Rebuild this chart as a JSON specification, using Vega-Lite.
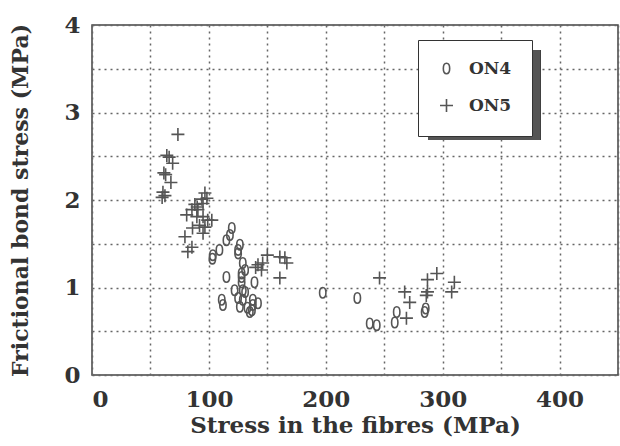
{
  "$schema": "https://vega.github.io/schema/vega-lite/v6.json",
  "width": 526,
  "height": 350,
  "autosize": {"type": "none"},
  "padding": {"left": 92, "top": 25, "right": 2, "bottom": 71},
  "background": "white",
  "config": {
    "view": {"stroke": "#444", "strokeWidth": 1.5},
    "font": "DejaVu Serif",
    "axis": {
      "labelFont": "DejaVu Serif",
      "labelFontWeight": "bold",
      "labelFontSize": 23,
      "labelColor": "#333",
      "titleFont": "DejaVu Serif",
      "titleFontWeight": "bold",
      "titleFontSize": 22,
      "titleColor": "#333",
      "grid": true,
      "gridColor": "#666",
      "gridDash": [2, 4],
      "gridWidth": 1.5,
      "domain": false,
      "ticks": false
    },
    "legend": {
      "labelFont": "DejaVu Serif",
      "labelFontWeight": "bold",
      "labelFontSize": 17,
      "labelColor": "#333"
    }
  },
  "data": {
    "values": [
      {"series": "ON5", "stress": 73.5, "bond": 2.75},
      {"series": "ON5", "stress": 64, "bond": 2.51},
      {"series": "ON5", "stress": 66, "bond": 2.49},
      {"series": "ON5", "stress": 69, "bond": 2.42},
      {"series": "ON5", "stress": 61.5, "bond": 2.31},
      {"series": "ON5", "stress": 63, "bond": 2.29},
      {"series": "ON5", "stress": 67.5, "bond": 2.2},
      {"series": "ON5", "stress": 60.7, "bond": 2.09},
      {"series": "ON5", "stress": 60, "bond": 2.03},
      {"series": "ON5", "stress": 62.4, "bond": 2.05},
      {"series": "ON5", "stress": 96.6, "bond": 2.08},
      {"series": "ON5", "stress": 98.3, "bond": 2.02},
      {"series": "ON5", "stress": 94, "bond": 2.01},
      {"series": "ON5", "stress": 88, "bond": 1.95},
      {"series": "ON5", "stress": 85.5, "bond": 1.89},
      {"series": "ON5", "stress": 81, "bond": 1.83},
      {"series": "ON5", "stress": 90.6, "bond": 1.89},
      {"series": "ON5", "stress": 89.7, "bond": 1.81},
      {"series": "ON5", "stress": 95, "bond": 1.81},
      {"series": "ON5", "stress": 99, "bond": 1.77},
      {"series": "ON5", "stress": 92, "bond": 1.71},
      {"series": "ON5", "stress": 96.6, "bond": 1.69},
      {"series": "ON5", "stress": 86, "bond": 1.68},
      {"series": "ON5", "stress": 95, "bond": 1.62},
      {"series": "ON5", "stress": 79.5, "bond": 1.58},
      {"series": "ON5", "stress": 85.5, "bond": 1.46},
      {"series": "ON5", "stress": 82, "bond": 1.41},
      {"series": "ON5", "stress": 102.5, "bond": 1.77},
      {"series": "ON5", "stress": 90, "bond": 1.92},
      {"series": "ON5", "stress": 95, "bond": 1.96},
      {"series": "ON5", "stress": 142, "bond": 1.26},
      {"series": "ON5", "stress": 146, "bond": 1.28},
      {"series": "ON5", "stress": 145, "bond": 1.2},
      {"series": "ON5", "stress": 150, "bond": 1.37},
      {"series": "ON5", "stress": 160.7, "bond": 1.35},
      {"series": "ON5", "stress": 166.7, "bond": 1.28},
      {"series": "ON5", "stress": 165, "bond": 1.34},
      {"series": "ON5", "stress": 160.7, "bond": 1.11},
      {"series": "ON5", "stress": 140, "bond": 1.23},
      {"series": "ON5", "stress": 246, "bond": 1.11},
      {"series": "ON5", "stress": 267.5, "bond": 0.95},
      {"series": "ON5", "stress": 271.8, "bond": 0.83},
      {"series": "ON5", "stress": 269, "bond": 0.65},
      {"series": "ON5", "stress": 287, "bond": 1.09},
      {"series": "ON5", "stress": 295, "bond": 1.16},
      {"series": "ON5", "stress": 286, "bond": 0.91},
      {"series": "ON5", "stress": 287, "bond": 0.95},
      {"series": "ON5", "stress": 310, "bond": 1.06},
      {"series": "ON5", "stress": 307.7, "bond": 0.95},
      {"series": "ON4", "stress": 119.6, "bond": 1.68},
      {"series": "ON4", "stress": 118, "bond": 1.6},
      {"series": "ON4", "stress": 115, "bond": 1.54},
      {"series": "ON4", "stress": 126.5, "bond": 1.49},
      {"series": "ON4", "stress": 125, "bond": 1.43},
      {"series": "ON4", "stress": 109, "bond": 1.43},
      {"series": "ON4", "stress": 103.4, "bond": 1.37},
      {"series": "ON4", "stress": 103, "bond": 1.33},
      {"series": "ON4", "stress": 125, "bond": 1.39},
      {"series": "ON4", "stress": 129, "bond": 1.28},
      {"series": "ON4", "stress": 131, "bond": 1.2},
      {"series": "ON4", "stress": 128, "bond": 1.12},
      {"series": "ON4", "stress": 115, "bond": 1.12},
      {"series": "ON4", "stress": 128, "bond": 1.16},
      {"series": "ON4", "stress": 128, "bond": 1.06},
      {"series": "ON4", "stress": 139, "bond": 1.06},
      {"series": "ON4", "stress": 122, "bond": 0.97},
      {"series": "ON4", "stress": 129, "bond": 0.97},
      {"series": "ON4", "stress": 131, "bond": 0.95},
      {"series": "ON4", "stress": 125, "bond": 0.88},
      {"series": "ON4", "stress": 111, "bond": 0.86},
      {"series": "ON4", "stress": 112, "bond": 0.8},
      {"series": "ON4", "stress": 129, "bond": 0.86},
      {"series": "ON4", "stress": 126.5, "bond": 0.78},
      {"series": "ON4", "stress": 137.6, "bond": 0.86},
      {"series": "ON4", "stress": 133, "bond": 0.77},
      {"series": "ON4", "stress": 136.8, "bond": 0.74},
      {"series": "ON4", "stress": 142, "bond": 0.82},
      {"series": "ON4", "stress": 137.6, "bond": 0.8},
      {"series": "ON4", "stress": 135, "bond": 0.72},
      {"series": "ON4", "stress": 197.4, "bond": 0.94},
      {"series": "ON4", "stress": 227, "bond": 0.88},
      {"series": "ON4", "stress": 237.6, "bond": 0.59},
      {"series": "ON4", "stress": 243.6, "bond": 0.57},
      {"series": "ON4", "stress": 259, "bond": 0.6},
      {"series": "ON4", "stress": 260.7, "bond": 0.72},
      {"series": "ON4", "stress": 284.6, "bond": 0.72},
      {"series": "ON4", "stress": 285.5, "bond": 0.76}
    ]
  },
  "layer": [
    {
      "mark": {"type": "rect", "fill": "#555", "stroke": null},
      "encoding": {
        "x": {"datum": 287.5, "type": "quantitative", "scale": {"domain": [0, 450]}},
        "x2": {"datum": 383.3},
        "y": {"datum": 3.714, "type": "quantitative", "scale": {"domain": [0, 4]}},
        "y2": {"datum": 2.686}
      }
    },
    {
      "mark": {"type": "point", "filled": false, "color": "#555", "strokeWidth": 1.6, "opacity": 1, "size": 169},
      "encoding": {
        "x": {
          "field": "stress",
          "type": "quantitative",
          "title": "Stress in the fibres (MPa)",
          "scale": {"domain": [0, 450], "nice": false, "zero": true},
          "axis": {
            "values": [0, 50, 100, 150, 200, 250, 300, 350, 400, 450],
            "format": "d",
            "labelExpr": "datum.value % 100 == 0 ? datum.label : ''",
            "labelPadding": 13,
            "titlePadding": 3,
            "titleFontSize": 23
          }
        },
        "y": {
          "field": "bond",
          "type": "quantitative",
          "title": "Frictional bond stress (MPa)",
          "scale": {"domain": [0, 4], "nice": false},
          "axis": {
            "values": [0, 0.5, 1, 1.5, 2, 2.5, 3, 3.5, 4],
            "format": "~g",
            "labelExpr": "datum.value % 1 == 0 ? datum.label : ''",
            "labelPadding": 12,
            "titlePadding": 31
          }
        },
        "shape": {
          "field": "series",
          "type": "nominal",
          "scale": {
            "domain": ["ON4", "ON5"],
            "range": [
              "M0,-0.8 C0.65,-0.8 0.65,0.8 0,0.8 C-0.65,0.8 -0.65,-0.8 0,-0.8 Z",
              "M-1,0 L1,0 M0,-1 L0,1"
            ]
          },
          "legend": {
            "title": null,
            "orient": "none",
            "legendX": 326,
            "legendY": 15,
            "padding": 20,
            "fillColor": "white",
            "strokeColor": "#333",
            "symbolStrokeColor": "#555",
            "symbolFillColor": "transparent",
            "symbolStrokeWidth": 1.6,
            "symbolSize": 169,
            "labelOffset": 14,
            "rowPadding": 18
          }
        }
      }
    }
  ]
}
